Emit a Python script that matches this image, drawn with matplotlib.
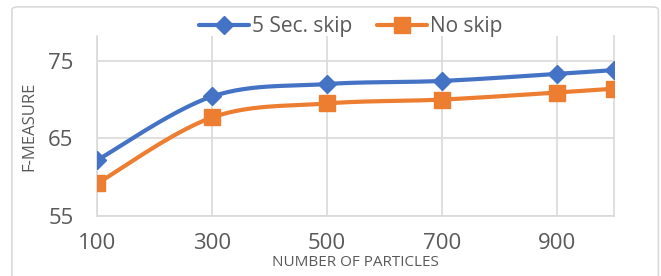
import numpy as np
import matplotlib.pyplot as plt
from matplotlib.patches import FancyBboxPatch

# values
particles = [100, 300, 500, 700, 900, 1000]
skip5 = [62.2, 70.4, 72.0, 72.4, 73.3, 73.8]
noskip = [59.2, 67.7, 69.5, 70.0, 70.9, 71.4]
x_ticks = [100, 300, 500, 700, 900]
y_ticks = [55, 65, 75]

BLUE = "#4472C4"
ORANGE = "#ED7D31"
TEXT = "#595959"
GRID = "#D9D9D9"


def smooth(xs, ys, n=30):
    # catmull-rom style smoothing like the office "smoothed line" option
    xs = np.asarray(xs, float)
    ys = np.asarray(ys, float)
    px = np.concatenate([[xs[0]], xs, [xs[-1]]])
    py = np.concatenate([[ys[0]], ys, [ys[-1]]])
    out_x, out_y = [], []
    t = np.linspace(0, 1, n)
    for i in range(1, len(px) - 2):
        p0x, p1x, p2x, p3x = px[i - 1], px[i], px[i + 1], px[i + 2]
        p0y, p1y, p2y, p3y = py[i - 1], py[i], py[i + 1], py[i + 2]
        c1x, c1y = p1x + (p2x - p0x) / 6, p1y + (p2y - p0y) / 6
        c2x, c2y = p2x - (p3x - p1x) / 6, p2y - (p3y - p1y) / 6
        bx = (1 - t) ** 3 * p1x + 3 * (1 - t) ** 2 * t * c1x + 3 * (1 - t) * t ** 2 * c2x + t ** 3 * p2x
        by = (1 - t) ** 3 * p1y + 3 * (1 - t) ** 2 * t * c1y + 3 * (1 - t) * t ** 2 * c2y + t ** 3 * p2y
        out_x.extend(bx)
        out_y.extend(by)
    return out_x, out_y


plt.rcParams["font.family"] = ["Open Sans", "DejaVu Sans"]

fig = plt.figure(figsize=(6.61, 2.76), dpi=100)
border = FancyBboxPatch((0.018, -0.05), 0.978, 1.025, boxstyle="round,pad=0,rounding_size=0.01",
                        transform=fig.transFigure, fc="none", ec=GRID, lw=1.2, zorder=5)
fig.patches.append(border)
ax = fig.add_axes([0.147, 0.217, 0.782, 0.653])
ax.patch.set_alpha(0)

for ys, col, mk, ms, lab in [(skip5, BLUE, "D", 9.5, "5 Sec. skip"), (noskip, ORANGE, "s", 12, "No skip")]:
    sx, sy = smooth(particles, ys)
    ax.plot(sx, sy, color=col, lw=3, solid_capstyle="round", zorder=3)
    ax.plot(particles, ys, ls="none", marker=mk, ms=ms, color=col, zorder=4)
    ax.plot([], [], color=col, lw=3, marker=mk, ms=ms, label=lab, solid_capstyle="round")

ax.set_xlim(100, 1000)
ax.set_ylim(55, 78.2)
ax.set_xticks(x_ticks)
ax.set_yticks(y_ticks)
ax.grid(True, color=GRID, lw=1.2)
ax.set_axisbelow(True)
ax.spines["top"].set_visible(False)
for s in ["left", "right", "bottom"]:
    ax.spines[s].set_color(GRID)
    ax.spines[s].set_linewidth(1.2)
ax.tick_params(length=0, colors=TEXT, labelsize=16)
ax.tick_params(axis="x", pad=12)
ax.tick_params(axis="y", pad=17)
ax.set_xlabel("NUMBER OF PARTICLES", color=TEXT, fontsize=11, labelpad=1)
ax.set_ylabel("F-MEASURE", color=TEXT, fontsize=12, labelpad=8)

ax.legend(loc="center", bbox_to_anchor=(0.49, 1.05), ncol=2, frameon=False, fontsize=15,
          labelcolor=TEXT, handlelength=2.4, handletextpad=0.15, columnspacing=1.2)

fig.savefig("out.png", dpi=100)
